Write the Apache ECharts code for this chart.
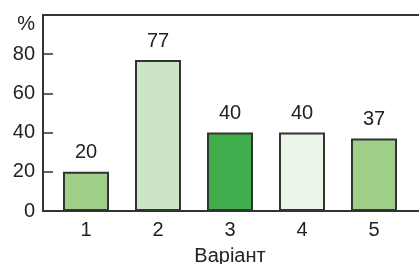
<!DOCTYPE html>
<html>
<head>
<meta charset="utf-8">
<script src="https://cdn.jsdelivr.net/npm/echarts@6/dist/echarts.min.js"></script>
<style>
  html, body { margin: 0; padding: 0; background: #fff; }
  #chart { width: 419px; height: 264px; }
</style>
</head>
<body>
<div id="chart"></div>
<script>
// data
var variants = ['1', '2', '3', '4', '5'];
var percent = [20, 77, 40, 40, 37];
var barColors = ['#9ed08a', '#cce5c4', '#40ae4c', '#eaf4e7', '#9ed08a'];
var yTicks = [0, 20, 40, 60, 80, 100];

var lineColor = '#333';
var textColor = '#222';
var font = 'Liberation Sans, Arial, sans-serif';

var chart = echarts.init(document.getElementById('chart'));

chart.setOption({
  animation: false,
  textStyle: { fontFamily: font },
  grid: [
    // bars
    { left: 50, right: 9, top: 15, bottom: 53, outerBoundsMode: 'none', containLabel: false },
    // frame: left, bottom and top lines
    { left: 43, right: 0, top: 15, bottom: 53, outerBoundsMode: 'none', containLabel: false }
  ],
  xAxis: [
    {
      gridIndex: 0,
      type: 'category',
      data: variants,
      axisLine: { show: false },
      axisTick: { show: false },
      axisLabel: { color: textColor, fontSize: 20, margin: 9 },
      name: 'Варіант',
      nameLocation: 'middle',
      nameGap: 35,
      nameTextStyle: { color: textColor, fontSize: 20 }
    },
    {
      gridIndex: 1, type: 'value', min: 0, max: 1, position: 'bottom',
      axisLine: { lineStyle: { color: lineColor, width: 2 } },
      axisTick: { show: false }, axisLabel: { show: false }, splitLine: { show: false }
    },
    {
      gridIndex: 1, type: 'value', min: 0, max: 1, position: 'top',
      axisLine: { lineStyle: { color: lineColor, width: 2 } },
      axisTick: { show: false }, axisLabel: { show: false }, splitLine: { show: false }
    }
  ],
  yAxis: [
    {
      gridIndex: 0, type: 'value', min: 0, max: 100, interval: 20, show: false
    },
    {
      gridIndex: 1, type: 'value',
      min: yTicks[0], max: yTicks[yTicks.length - 1], interval: 20,
      axisLine: { show: true, lineStyle: { color: lineColor, width: 2 } },
      axisTick: { show: true, inside: true, length: 10, lineStyle: { color: lineColor, width: 1.5 } },
      splitLine: { show: false },
      axisLabel: {
        color: textColor, fontSize: 20, margin: 8,
        formatter: function (v) { return v === 100 ? '{p|%}' : String(v); },
        rich: { p: { fontSize: 20, color: textColor, padding: [18, 0, 0, 0] } }
      }
    }
  ],
  series: [{
    type: 'bar',
    xAxisIndex: 0,
    yAxisIndex: 0,
    barWidth: 46,
    data: percent.map(function (v, i) {
      return { value: v, itemStyle: { color: barColors[i] } };
    }),
    itemStyle: { borderColor: lineColor, borderWidth: 2 },
    label: {
      show: true, position: 'top', distance: 9,
      color: textColor, fontSize: 20
    }
  }]
});
</script>
</body>
</html>
